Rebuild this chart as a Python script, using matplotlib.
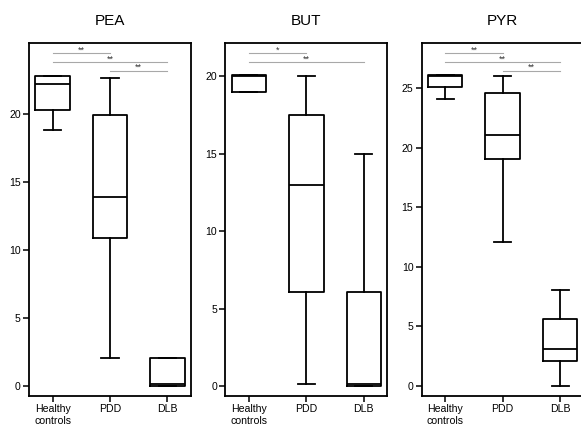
import matplotlib.pyplot as plt
from matplotlib import font_manager
from matplotlib.transforms import blended_transform_factory

# pick the regular (not narrow) Liberation Sans file
reg = [f for f in font_manager.findSystemFonts()
       if f.endswith("LiberationSans-Regular.ttf")]
if reg:
    font_manager.fontManager.addfont(reg[0])
    fam = font_manager.FontProperties(fname=reg[0]).get_name()
else:
    fam = "DejaVu Sans"
plt.rcParams['font.family'] = [fam, 'DejaVu Sans']

groups = ["Healthy\ncontrols", "PDD", "DLB"]
titles = ["PEA", "BUT", "PYR"]

# box stats per group: (whislo, q1, med, q3, whishi)
pea_stats = [(18.85, 20.3, 22.2, 22.8, 22.8),
             (2.05, 10.9, 13.9, 19.95, 22.7),
             (0.0, 0.0, 0.1, 2.05, 2.05)]
but_stats = [(19.0, 19.0, 20.0, 20.1, 20.1),
             (0.1, 6.05, 13.0, 17.5, 20.0),
             (0.0, 0.0, 0.1, 6.05, 15.0)]
pyr_stats = [(24.1, 25.1, 26.0, 26.1, 26.1),
             (12.05, 19.1, 21.05, 24.6, 26.05),
             (0.0, 2.1, 3.1, 5.6, 8.1)]

# significance brackets: (from group, to group, label)
pea_sig = [(0, 1, "**"), (0, 2, "**"), (1, 2, "**")]
but_sig = [(0, 1, "*"), (0, 2, "**")]
pyr_sig = [(0, 1, "**"), (0, 2, "**"), (1, 2, "**")]

yticks = [[0, 5, 10, 15, 20], [0, 5, 10, 15, 20], [0, 5, 10, 15, 20, 25]]
ylims = [(-0.76, 25.25), (-0.65, 22.16), (-0.84, 28.8)]


def draw_panel(ax, stats, sig, title, ticks, ylim):
    bxp = []
    for s in stats:
        lo, q1, med, q3, hi = s
        bxp.append(dict(whislo=lo, q1=q1, med=med, q3=q3, whishi=hi, fliers=[]))
    line = dict(color="black", linewidth=1.3)
    ax.bxp(bxp, positions=[0, 1, 2], widths=0.6, showfliers=False,
           boxprops=line, medianprops=line, whiskerprops=line,
           capprops=line, capwidths=0.3)

    # significance lines in data x / axes y
    tr = blended_transform_factory(ax.transData, ax.transAxes)
    levels = [0.972, 0.946, 0.922]
    for k, (a, b, lab) in enumerate(sig):
        y = levels[k]
        ax.plot([a, b], [y, y], color="#a8a8a8", linewidth=0.8,
                transform=tr, clip_on=False)
        ax.text((a + b) / 2, y - 0.004, lab, transform=tr, ha="center",
                va="bottom", fontsize=6.5, color="#333333")

    ax.set_xlim(-0.41, 2.41)
    ax.set_ylim(*ylim)
    ax.set_yticks(ticks)
    ax.set_xticks([0, 1, 2])
    ax.set_xticklabels(groups)
    ax.tick_params(axis="both", labelsize=7.6, length=4, width=1.1,
                   direction="out", pad=2)
    for sp in ax.spines.values():
        sp.set_linewidth(1.3)
    ax.set_title(title, fontsize=11, pad=13)


fig = plt.figure(figsize=(5.81, 4.30), dpi=100)
lefts = [29 / 581, 225.3 / 581, 421.7 / 581]
all_stats = [pea_stats, but_stats, pyr_stats]
all_sig = [pea_sig, but_sig, pyr_sig]
for i in range(3):
    ax = fig.add_axes([lefts[i], 0.0791, 162 / 581, 0.8209])
    draw_panel(ax, all_stats[i], all_sig[i], titles[i], yticks[i], ylims[i])

fig.savefig("out.png", dpi=100)
